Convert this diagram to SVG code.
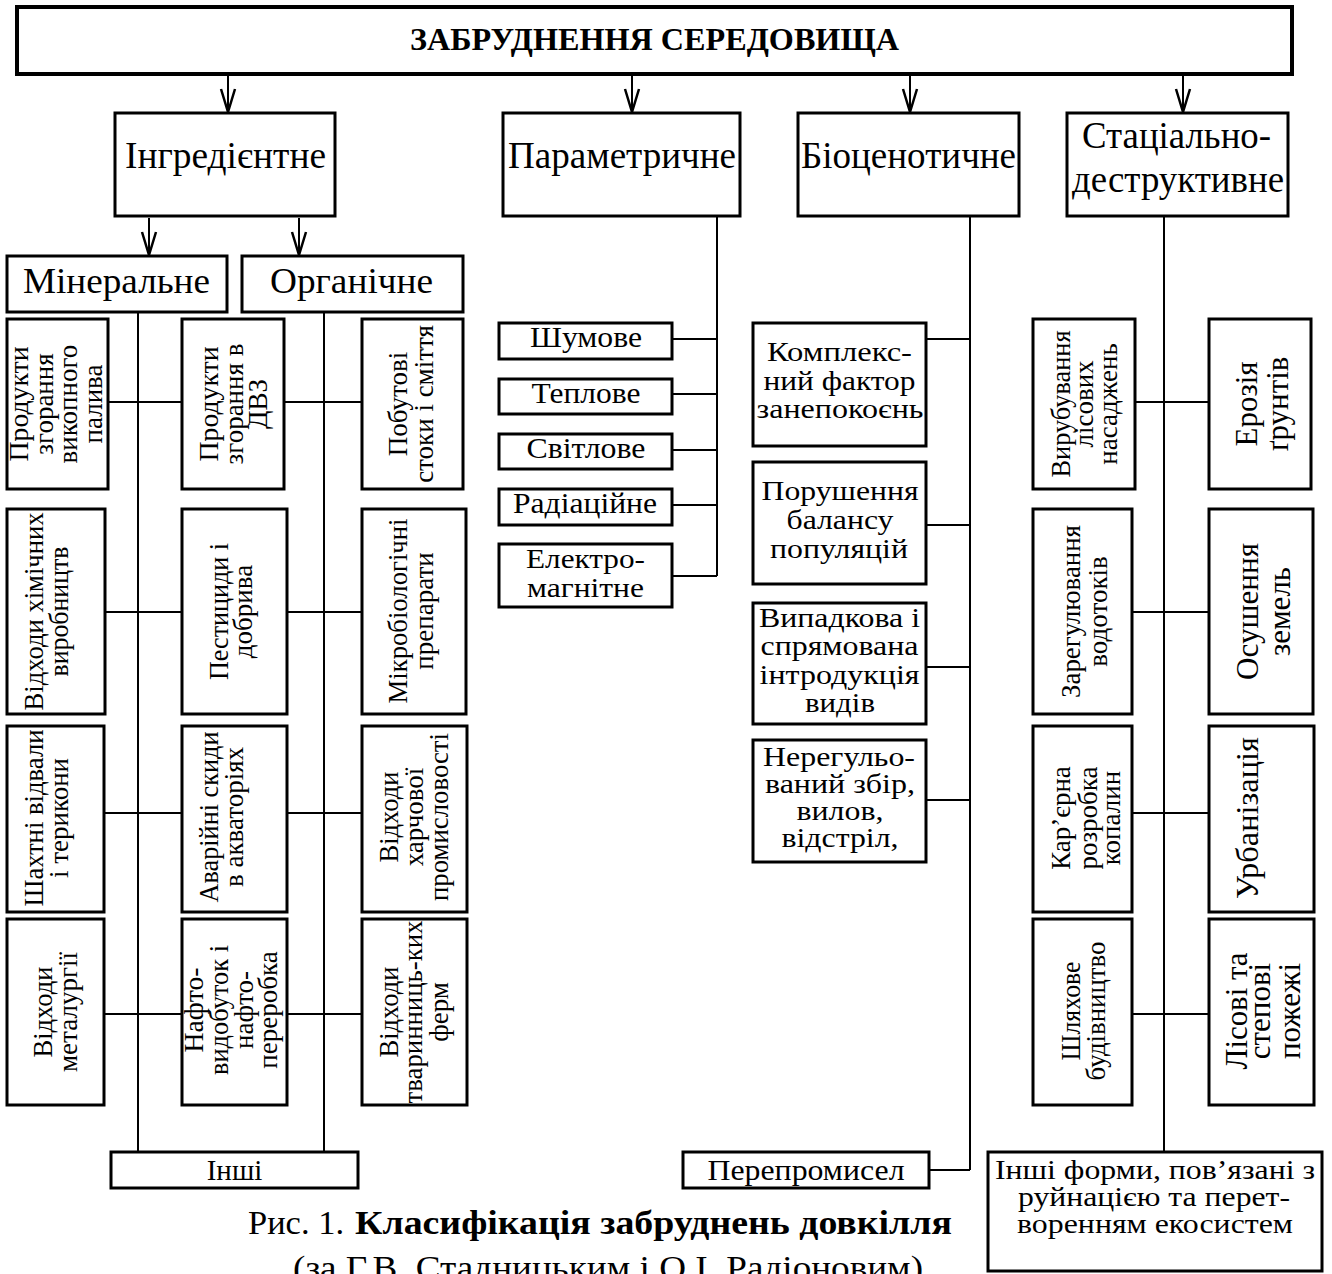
<svg xmlns="http://www.w3.org/2000/svg" width="1332" height="1274" viewBox="0 0 1332 1274">
  <defs>
    <style>
      .box { fill: #fff; stroke: #000; stroke-width: 3; }
      .tbox { fill: #fff; stroke: #000; stroke-width: 4; }
      .ln { stroke: #000; stroke-width: 2; fill: none; }
      .t { font-family: "Liberation Serif", "Times New Roman", serif; fill: #000; text-anchor: middle; }
      .h1 { font-size: 32px; font-weight: bold; }
      .h2 { font-size: 37px; }
      .h3 { font-size: 36px; }
      .m { font-size: 29px; }
      .ml { font-size: 27px; }
      .r { font-size: 27px; }
      .rb { font-size: 31px; }
      .cap { font-size: 34px; }
      .b { font-weight: bold; }
    </style>
    <marker id="arr" markerUnits="userSpaceOnUse" viewBox="-26 -10 28 20" markerWidth="28" markerHeight="20" refX="0" refY="0" orient="auto">
      <path d="M-23,-7 L0,0 L-23,7" fill="none" stroke="#000" stroke-width="2.5"/>
    </marker>
  </defs>
  <rect width="1332" height="1274" fill="#fff"/>

  <!-- connectors -->
  <g id="connectors" class="ln">
    <line x1="228" y1="76" x2="228" y2="112" marker-end="url(#arr)"/>
    <line x1="632" y1="76" x2="632" y2="112" marker-end="url(#arr)"/>
    <line x1="910" y1="76" x2="910" y2="112" marker-end="url(#arr)"/>
    <line x1="1183" y1="76" x2="1183" y2="112" marker-end="url(#arr)"/>
    <line x1="149" y1="218" x2="149" y2="255" marker-end="url(#arr)"/>
    <line x1="299" y1="218" x2="299" y2="255" marker-end="url(#arr)"/>
    <!-- mineral / organic trunks -->
    <path d="M138,313 V1152 M324,313 V1152"/>
    <path d="M108,402 H182 M284,402 H362 M105,612 H182 M287,612 H362 M104,813 H182 M287,813 H362 M104,1014 H182 M287,1014 H362"/>
    <!-- parametric -->
    <path d="M717,217 V576 M672,339 H717 M672,394 H717 M672,450 H717 M672,505 H717 M672,576 H717"/>
    <!-- biocenotic -->
    <path d="M970,217 V1170 M926,339 H970 M926,525 H970 M926,667 H970 M926,800 H970 M929,1170 H970"/>
    <!-- stational-destructive -->
    <path d="M1164,217 V1152 M1135,402 H1209 M1132,612 H1209 M1132,813 H1209 M1132,1014 H1209"/>
  </g>

  <g id="n-root">
    <rect class="tbox" x="17" y="7" width="1275" height="67"/>
    <text class="t h1" x="654.5" y="50" textLength="489" lengthAdjust="spacingAndGlyphs">ЗАБРУДНЕННЯ СЕРЕДОВИЩА</text>
  </g>

  <g id="n-ingr">
    <rect class="box" x="115" y="113" width="220" height="103"/>
    <text class="t h2" x="225.5" y="168" textLength="201" lengthAdjust="spacingAndGlyphs">Інгредієнтне</text>
  </g>
  <g id="n-param">
    <rect class="box" x="503" y="113" width="237" height="103"/>
    <text class="t h2" x="622" y="168" textLength="228" lengthAdjust="spacingAndGlyphs">Параметричне</text>
  </g>
  <g id="n-bio">
    <rect class="box" x="798" y="113" width="221" height="103"/>
    <text class="t h2" x="908.5" y="168" textLength="215" lengthAdjust="spacingAndGlyphs">Біоценотичне</text>
  </g>
  <g id="n-stat">
    <rect class="box" x="1067" y="113" width="221" height="103"/>
    <text class="t h2" x="1176.5" y="148" textLength="189" lengthAdjust="spacingAndGlyphs">Стаціально-</text>
    <text class="t h2" x="1178" y="192" textLength="212" lengthAdjust="spacingAndGlyphs">деструктивне</text>
  </g>

  <g id="n-min">
    <rect class="box" x="7" y="256" width="220" height="56"/>
    <text class="t h3" x="116.5" y="293" textLength="187" lengthAdjust="spacingAndGlyphs">Мінеральне</text>
  </g>
  <g id="n-org">
    <rect class="box" x="242" y="256" width="221" height="56"/>
    <text class="t h3" x="351.5" y="293" textLength="163" lengthAdjust="spacingAndGlyphs">Органічне</text>
  </g>

  <!-- mineral column -->
  <g id="n-fuel">
    <rect class="box" x="7" y="319" width="101" height="170"/>
    <text class="t r" transform="translate(28.3,404) rotate(-90)" textLength="115" lengthAdjust="spacingAndGlyphs">Продукти</text>
    <text class="t r" transform="translate(53.3,404) rotate(-90)">згорання</text>
    <text class="t r" transform="translate(77.3,404) rotate(-90)">викопного</text>
    <text class="t r" transform="translate(101.7,404) rotate(-90)">палива</text>
  </g>
  <g id="n-chem">
    <rect class="box" x="7" y="509" width="98" height="205"/>
    <text class="t r" transform="translate(43.3,611.5) rotate(-90)" textLength="198" lengthAdjust="spacingAndGlyphs">Відходи хімічних</text>
    <text class="t r" transform="translate(68.3,611.5) rotate(-90)" textLength="130" lengthAdjust="spacingAndGlyphs">виробництв</text>
  </g>
  <g id="n-mine">
    <rect class="box" x="7" y="726" width="97" height="186"/>
    <text class="t r" transform="translate(43.3,818) rotate(-90)" textLength="177" lengthAdjust="spacingAndGlyphs">Шахтні відвали</text>
    <text class="t r" transform="translate(68.3,818) rotate(-90)">і терикони</text>
  </g>
  <g id="n-metal">
    <rect class="box" x="7" y="919" width="97" height="186"/>
    <text class="t r" transform="translate(51.7,1012) rotate(-90)" textLength="91" lengthAdjust="spacingAndGlyphs">Відходи</text>
    <text class="t r" transform="translate(76.7,1012) rotate(-90)">металургії</text>
  </g>

  <!-- middle column -->
  <g id="n-ice">
    <rect class="box" x="182" y="319" width="102" height="170"/>
    <text class="t r" transform="translate(218.3,404) rotate(-90)" textLength="115" lengthAdjust="spacingAndGlyphs">Продукти</text>
    <text class="t r" transform="translate(243.3,404) rotate(-90)">згорання в</text>
    <text class="t r" transform="translate(266.7,404) rotate(-90)">ДВЗ</text>
  </g>
  <g id="n-pest">
    <rect class="box" x="182" y="509" width="105" height="205"/>
    <text class="t r" transform="translate(228.3,611.5) rotate(-90)" textLength="137" lengthAdjust="spacingAndGlyphs">Пестициди і</text>
    <text class="t r" transform="translate(251.7,611.5) rotate(-90)">добрива</text>
  </g>
  <g id="n-spill">
    <rect class="box" x="182" y="726" width="105" height="186"/>
    <text class="t r" transform="translate(218.3,817) rotate(-90)" textLength="171" lengthAdjust="spacingAndGlyphs">Аварійні скиди</text>
    <text class="t r" transform="translate(243.3,817) rotate(-90)">в акваторіях</text>
  </g>
  <g id="n-oil">
    <rect class="box" x="182" y="919" width="105" height="186"/>
    <text class="t r" transform="translate(203.3,1010) rotate(-90)" textLength="85" lengthAdjust="spacingAndGlyphs">Нафто-</text>
    <text class="t r" transform="translate(228.3,1010) rotate(-90)" textLength="130" lengthAdjust="spacingAndGlyphs">видобуток і</text>
    <text class="t r" transform="translate(253.3,1010) rotate(-90)">нафто-</text>
    <text class="t r" transform="translate(277,1010) rotate(-90)">переробка</text>
  </g>

  <!-- organic column -->
  <g id="n-house">
    <rect class="box" x="362" y="319" width="101" height="170"/>
    <text class="t r" transform="translate(406.7,404) rotate(-90)">Побутові</text>
    <text class="t r" transform="translate(433.3,404) rotate(-90)">стоки і сміття</text>
  </g>
  <g id="n-micro">
    <rect class="box" x="362" y="509" width="104" height="205"/>
    <text class="t r" transform="translate(406.7,611) rotate(-90)" textLength="185" lengthAdjust="spacingAndGlyphs">Мікробіологічні</text>
    <text class="t r" transform="translate(433.3,611) rotate(-90)">препарати</text>
  </g>
  <g id="n-food">
    <rect class="box" x="362" y="726" width="105" height="186"/>
    <text class="t r" transform="translate(398.3,817) rotate(-90)" textLength="91" lengthAdjust="spacingAndGlyphs">Відходи</text>
    <text class="t r" transform="translate(423.3,817) rotate(-90)">харчової</text>
    <text class="t r" transform="translate(448.3,817) rotate(-90)" textLength="168" lengthAdjust="spacingAndGlyphs">промисловості</text>
  </g>
  <g id="n-farm">
    <rect class="box" x="362" y="919" width="105" height="186"/>
    <text class="t r" transform="translate(398.3,1012) rotate(-90)" textLength="91" lengthAdjust="spacingAndGlyphs">Відходи</text>
    <text class="t r" transform="translate(422,1012) rotate(-90)" textLength="183" lengthAdjust="spacingAndGlyphs">тваринниць-ких</text>
    <text class="t r" transform="translate(448,1012) rotate(-90)">ферм</text>
  </g>

  <g id="n-other-ingr">
    <rect class="box" x="111" y="1152" width="247" height="36"/>
    <text class="t m" x="234.5" y="1180">Інші</text>
  </g>

  <!-- parametric children -->
  <g id="n-noise">
    <rect class="box" x="499" y="323" width="173" height="36"/>
    <text class="t m" x="586" y="347" textLength="112" lengthAdjust="spacingAndGlyphs">Шумове</text>
  </g>
  <g id="n-heat">
    <rect class="box" x="499" y="379" width="173" height="35"/>
    <text class="t m" x="586" y="403" textLength="109" lengthAdjust="spacingAndGlyphs">Теплове</text>
  </g>
  <g id="n-light">
    <rect class="box" x="499" y="434" width="173" height="35"/>
    <text class="t m" x="586" y="458" textLength="119" lengthAdjust="spacingAndGlyphs">Світлове</text>
  </g>
  <g id="n-rad">
    <rect class="box" x="499" y="489" width="173" height="36"/>
    <text class="t m" x="585" y="513" textLength="144" lengthAdjust="spacingAndGlyphs">Радіаційне</text>
  </g>
  <g id="n-em">
    <rect class="box" x="499" y="544" width="173" height="63"/>
    <text class="t ml" x="585.5" y="568" textLength="119" lengthAdjust="spacingAndGlyphs">Електро-</text>
    <text class="t ml" x="585.5" y="597" textLength="117" lengthAdjust="spacingAndGlyphs">магнітне</text>
  </g>

  <!-- biocenotic children -->
  <g id="n-disturb">
    <rect class="box" x="753" y="323" width="173" height="123"/>
    <text class="t ml" x="839.5" y="361" textLength="145" lengthAdjust="spacingAndGlyphs">Комплекс-</text>
    <text class="t ml" x="839.5" y="389.5" textLength="152" lengthAdjust="spacingAndGlyphs">ний фактор</text>
    <text class="t ml" x="840" y="418" textLength="167" lengthAdjust="spacingAndGlyphs">занепокоєнь</text>
  </g>
  <g id="n-balance">
    <rect class="box" x="753" y="462" width="173" height="122"/>
    <text class="t ml" x="840" y="500" textLength="157" lengthAdjust="spacingAndGlyphs">Порушення</text>
    <text class="t ml" x="840" y="529" textLength="107" lengthAdjust="spacingAndGlyphs">балансу</text>
    <text class="t ml" x="839" y="558" textLength="138" lengthAdjust="spacingAndGlyphs">популяцій</text>
  </g>
  <g id="n-intro">
    <rect class="box" x="753" y="603" width="173" height="121"/>
    <text class="t ml" x="839.5" y="627" textLength="161" lengthAdjust="spacingAndGlyphs">Випадкова і</text>
    <text class="t ml" x="839.5" y="655" textLength="158" lengthAdjust="spacingAndGlyphs">спрямована</text>
    <text class="t ml" x="839.5" y="683.5" textLength="160" lengthAdjust="spacingAndGlyphs">інтродукція</text>
    <text class="t ml" x="840" y="712" textLength="70" lengthAdjust="spacingAndGlyphs">видів</text>
  </g>
  <g id="n-harvest">
    <rect class="box" x="753" y="740" width="173" height="122"/>
    <text class="t ml" x="839" y="766" textLength="152" lengthAdjust="spacingAndGlyphs">Нерегульо-</text>
    <text class="t ml" x="840" y="793" textLength="150" lengthAdjust="spacingAndGlyphs">ваний збір,</text>
    <text class="t ml" x="840" y="820" textLength="87" lengthAdjust="spacingAndGlyphs">вилов,</text>
    <text class="t ml" x="840" y="847" textLength="117" lengthAdjust="spacingAndGlyphs">відстріл,</text>
  </g>
  <g id="n-overfish">
    <rect class="box" x="683" y="1152" width="246" height="36"/>
    <text class="t m" x="806" y="1180" textLength="197" lengthAdjust="spacingAndGlyphs">Перепромисел</text>
  </g>

  <!-- stational-destructive children -->
  <g id="n-logging">
    <rect class="box" x="1033" y="319" width="102" height="170"/>
    <text class="t r" transform="translate(1070,404) rotate(-90)" textLength="147" lengthAdjust="spacingAndGlyphs">Вирубування</text>
    <text class="t r" transform="translate(1093.3,404) rotate(-90)">лісових</text>
    <text class="t r" transform="translate(1116.7,404) rotate(-90)">насаджень</text>
  </g>
  <g id="n-erosion">
    <rect class="box" x="1209" y="319" width="102" height="170"/>
    <text class="t rb" transform="translate(1256.7,404) rotate(-90)" textLength="85" lengthAdjust="spacingAndGlyphs">Ерозія</text>
    <text class="t rb" transform="translate(1288.3,404) rotate(-90)">ґрунтів</text>
  </g>
  <g id="n-dams">
    <rect class="box" x="1033" y="509" width="99" height="205"/>
    <text class="t r" transform="translate(1080,611.5) rotate(-90)" textLength="173" lengthAdjust="spacingAndGlyphs">Зарегулювання</text>
    <text class="t r" transform="translate(1106.7,611.5) rotate(-90)">водотоків</text>
  </g>
  <g id="n-drain">
    <rect class="box" x="1209" y="509" width="104" height="205"/>
    <text class="t rb" transform="translate(1258.3,611.5) rotate(-90)" textLength="137" lengthAdjust="spacingAndGlyphs">Осушення</text>
    <text class="t rb" transform="translate(1290,611.5) rotate(-90)">земель</text>
  </g>
  <g id="n-quarry">
    <rect class="box" x="1033" y="726" width="99" height="186"/>
    <text class="t r" transform="translate(1070,818) rotate(-90)">Кар’єрна</text>
    <text class="t r" transform="translate(1096.7,818) rotate(-90)">розробка</text>
    <text class="t r" transform="translate(1120,818) rotate(-90)">копалин</text>
  </g>
  <g id="n-urban">
    <rect class="box" x="1209" y="726" width="105" height="186"/>
    <text class="t rb" transform="translate(1258,818) rotate(-90)" textLength="162" lengthAdjust="spacingAndGlyphs">Урбанізація</text>
  </g>
  <g id="n-roads">
    <rect class="box" x="1033" y="919" width="99" height="186"/>
    <text class="t r" transform="translate(1080,1011) rotate(-90)" textLength="99" lengthAdjust="spacingAndGlyphs">Шляхове</text>
    <text class="t r" transform="translate(1105,1011) rotate(-90)" textLength="139" lengthAdjust="spacingAndGlyphs">будівництво</text>
  </g>
  <g id="n-fires">
    <rect class="box" x="1209" y="919" width="105" height="186"/>
    <text class="t rb" transform="translate(1246.7,1011) rotate(-90)" textLength="117" lengthAdjust="spacingAndGlyphs">Лісові та</text>
    <text class="t rb" transform="translate(1270,1011) rotate(-90)">степові</text>
    <text class="t rb" transform="translate(1300,1011) rotate(-90)">пожежі</text>
  </g>
  <g id="n-other-stat">
    <rect class="box" x="988" y="1152" width="334" height="119"/>
    <text class="t ml" x="1155" y="1179" textLength="320" lengthAdjust="spacingAndGlyphs">Інші форми, пов’язані з</text>
    <text class="t ml" x="1154" y="1206" textLength="272" lengthAdjust="spacingAndGlyphs">руйнацією та перет-</text>
    <text class="t ml" x="1155" y="1233" textLength="276" lengthAdjust="spacingAndGlyphs">воренням екосистем</text>
  </g>

  <!-- figure caption -->
  <g id="caption">
    <text class="t cap" x="296" y="1234" textLength="96" lengthAdjust="spacingAndGlyphs">Рис. 1.</text>
    <text class="t cap b" x="653.5" y="1234" textLength="597" lengthAdjust="spacingAndGlyphs">Класифікація забруднень довкілля</text>
    <text class="t cap" x="608" y="1279" textLength="630" lengthAdjust="spacingAndGlyphs">(за Г.В. Стадницьким і О.І. Радіоновим)</text>
  </g>
</svg>
